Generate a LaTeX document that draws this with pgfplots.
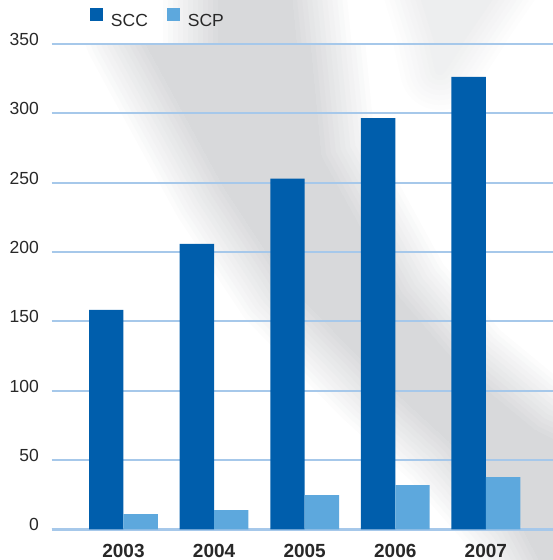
\documentclass[border=0pt]{standalone}
\usepackage{fontspec}
\setmainfont{Liberation Sans}
\usepackage{pgfplots}
\pgfplotsset{compat=1.18}
\definecolor{sccblue}{RGB}{0,94,172}
\definecolor{scpblue}{RGB}{93,168,221}
\definecolor{gridblue}{RGB}{166,200,234}
\definecolor{shadegray}{RGB}{216,217,219}
\definecolor{labelgray}{RGB}{40,40,40}
\begin{document}
\begin{tikzpicture}[x=1pt,y=1pt]
\useasboundingbox (0,0) rectangle (553,560);
% background shadow (coordinates with y measured downwards)
\begin{scope}[shift={(0,560)}, yscale=-1]
  \begin{scope}
    \clip (0,44) rectangle (553,560);
    \foreach \i in {0,...,11}{
      \pgfmathsetmacro{\d}{2*(55-5*\i)}
      \pgfmathsetmacro{\c}{100*(\i+1)/12}
      \filldraw[fill=shadegray!\c!white, draw=shadegray!\c!white, line width=\d pt, line join=round]
        (122,-20) -- (139,31) -- (224,187) -- (287,283) -- (380,378) -- (449,441)
        -- (519,521) -- (560,600) -- (640,600) -- (640,480) -- (536,431) -- (462,370)
        -- (398,296) -- (321,156) -- (304,-20) -- cycle;
    }
  \end{scope}
  \begin{scope}
    \clip (0,0) rectangle (553,44);
    \foreach \i in {0,...,11}{
      \pgfmathsetmacro{\d}{2*(55-5*\i)}
      \pgfmathsetmacro{\c}{100*(\i+1)/12}
      \filldraw[fill=shadegray!\c!white, draw=shadegray!\c!white, line width=\d pt, line join=round]
        (218,-20) -- (218,80) -- (300,80) -- (290,-20) -- cycle;
    }
    \foreach \i in {0,...,7}{
      \pgfmathsetmacro{\d}{2*(40-5*\i)}
      \pgfmathsetmacro{\c}{45*(\i+1)/8}
      \filldraw[fill=shadegray!\c!white, draw=shadegray!\c!white, line width=\d pt, line join=round]
        (420,-20) -- (500,-20) -- (445,60) -- cycle;
    }
  \end{scope}
  \begin{scope}
    \clip (0,44) rectangle (553,560);
    \foreach \i in {0,...,7}{
      \pgfmathsetmacro{\d}{2*(40-5*\i)}
      \pgfmathsetmacro{\c}{40*(\i+1)/8}
      \filldraw[fill=shadegray!\c!white, draw=shadegray!\c!white, line width=\d pt, line join=round]
        (420,-20) -- (500,-20) -- (440,70) -- cycle;
    }
  \end{scope}
\end{scope}
\begin{axis}[
  at={(51.7pt,30.7pt)}, anchor=south west,
  scale only axis, width=501.3pt, height=485.3pt,
  xmin=-0.7925, xmax=4.741, ymin=0, ymax=350,
  xtick={0,1,2,3,4}, xticklabels={2003,2004,2005,2006,2007},
  ytick={0,50,...,350},
  axis line style={draw=none},
  major tick length=0pt, tick style={draw=none},
  ymajorgrids, grid style={gridblue, line width=2pt},
  extra y ticks={0}, extra y tick labels={},
  extra y tick style={grid style={gridblue, line width=3.2pt}},
  /pgf/number format/assume math mode=true,
  yticklabel style={anchor=east, inner sep=0pt, xshift=-12.7pt, yshift=4.5pt,
    font=\fontsize{17.5}{19}\selectfont, text=labelgray},
  xticklabel style={anchor=north, inner sep=0pt, yshift=-14.5pt,
    font=\bfseries\fontsize{19}{20}\selectfont, text=labelgray},
  legend columns=2,
  legend style={at={(axis description cs:0.0763,1.033)}, anchor=south west,
    draw=none, fill=none, inner sep=0pt, outer sep=0pt,
    nodes={inner sep=0pt, font=\fontsize{17.5}{19}\selectfont, text=labelgray},
    /tikz/every odd column/.append style={column sep=8pt},
    /tikz/every even column/.append style={column sep=19pt}},
  legend cell align=left,
  legend image code/.code={\fill[#1] (0pt,0pt) rectangle (13pt,12.8pt);},
]
\addplot[ybar, bar width=34.4pt, bar shift=-17.2pt, fill=sccblue, draw=none]
  coordinates {(0,158.2) (1,205.8) (2,252.9) (3,296.6) (4,326.3)};
\addlegendentry{SCC}
\addplot[ybar, bar width=34.4pt, bar shift=17.2pt, fill=scpblue, draw=none]
  coordinates {(0,11.0) (1,13.9) (2,24.7) (3,31.9) (4,37.7)};
\addlegendentry{SCP}
\end{axis}
\end{tikzpicture}
\end{document}
